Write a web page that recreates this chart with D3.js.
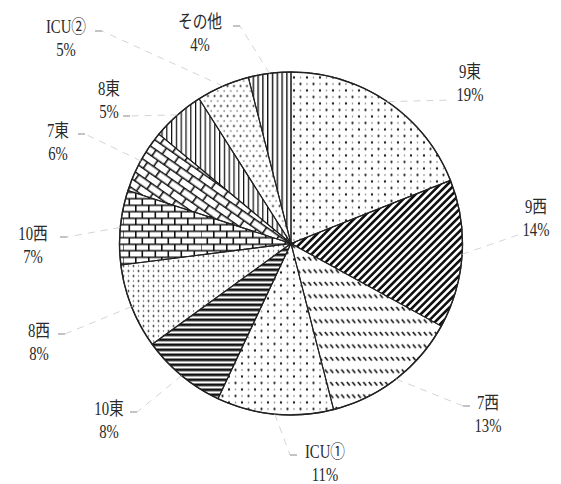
<!DOCTYPE html>
<html>
<head>
<meta charset="utf-8">
<script src="https://cdn.jsdelivr.net/npm/d3@7"></script>
<style>
  html, body { margin: 0; padding: 0; background: #fff; }
  #chart { width: 561px; height: 484px; }
  .lbl { font-family: "Liberation Serif", "Noto Sans CJK JP", serif; font-size: 16px; fill: #2a2a2a; }
</style>
</head>
<body>
<div id="chart"></div>
<script>
// ward names, clockwise from 12 o'clock
const wards = ["9東", "9西", "7西", "ICU①", "10東", "8西", "10西", "7東", "8東", "ICU②", "その他"];
// share of each ward (%)
const shares = [19, 14, 13, 11, 8, 8, 7, 6, 5, 5, 4];
// fill pattern id used for each slice
const patternOf = ["dotA", "diagBold", "hatchRow", "dotA", "horizBold", "dotB", "brick", "brickTilt", "vertA", "dotC", "vertB"];

// label layout: name centre x/baseline, leader end, direction of the small tick
const labelLayout = [
  {x: 470, y: 78,  ax: 452, ay: 100, dir: 0},
  {x: 536, y: 213, ax: 518, ay: 235, dir: 0},
  {x: 488, y: 409, ax: 463, ay: 406, dir: 1},
  {x: 325, y: 458, ax: 290, ay: 455, dir: 1},
  {x: 109, y: 415, ax: 137, ay: 412, dir: -1},
  {x: 39,  y: 337, ax: 65,  ay: 334, dir: -1},
  {x: 33,  y: 240, ax: 67,  ay: 237, dir: -1},
  {x: 58,  y: 137, ax: 85,  ay: 134, dir: -1},
  {x: 109, y: 95,  ax: 130, ay: 116, dir: -1},
  {x: 66,  y: 33,  ax: 102, ay: 31,  dir: -1},
  {x: 200, y: 28,  ax: 240, ay: 26,  dir: -1}
];

const width = 561, height = 484;
const cx = 291, cy = 243.5, radius = 171.5;

const svg = d3.select("#chart").append("svg")
  .attr("width", width)
  .attr("height", height);

const defs = svg.append("defs");

// dotted patterns
function dotPattern(id, w, h, dots) {
  const p = defs.append("pattern")
    .attr("id", id)
    .attr("patternUnits", "userSpaceOnUse")
    .attr("width", w).attr("height", h);
  dots.forEach(d => {
    p.append("circle").attr("cx", d[0]).attr("cy", d[1]).attr("r", d[2]).attr("fill", d[3]);
  });
}
dotPattern("dotA", 13, 13, [[3, 3, 1.15, "#111"], [9.5, 9.5, 1.15, "#111"], [9.5, 3, 0.8, "#666"], [3, 9.5, 0.8, "#666"]]);
dotPattern("dotB", 10, 10, [[2.5, 2.5, 0.95, "#111"], [7.5, 7.5, 0.95, "#111"], [7.5, 2.5, 0.7, "#555"], [2.5, 7.5, 0.7, "#555"]]);
dotPattern("dotC", 6.5, 10, [[1.5, 2.5, 1.0, "#111"], [4.75, 7.5, 0.8, "#555"]]);

// stripe patterns
function stripePattern(id, w, h, rx, ry, rw, rh, rotate) {
  const p = defs.append("pattern")
    .attr("id", id)
    .attr("patternUnits", "userSpaceOnUse")
    .attr("width", w).attr("height", h);
  if (rotate) p.attr("patternTransform", `rotate(${rotate})`);
  p.append("rect").attr("x", rx).attr("y", ry).attr("width", rw).attr("height", rh).attr("fill", "#111");
}
stripePattern("diagBold", 5.2, 10, 0, 0, 2.6, 10, 45);
stripePattern("horizBold", 10, 5, 0, 0, 10, 2.7, 0);
stripePattern("vertA", 4.8, 10, 0, 0, 1.25, 10, 0);
stripePattern("vertB", 4.8, 10, 0, 0, 1.4, 10, 0);

// rows of short back-slash marks
const hatch = defs.append("pattern")
  .attr("id", "hatchRow")
  .attr("patternUnits", "userSpaceOnUse")
  .attr("width", 5.5).attr("height", 12.5);
hatch.append("line")
  .attr("x1", 0.8).attr("y1", 1).attr("x2", 3.8).attr("y2", 4.6)
  .attr("stroke", "#111").attr("stroke-width", 1.6);

// brick patterns
function brickPattern(id, s, rotate) {
  const p = defs.append("pattern")
    .attr("id", id)
    .attr("patternUnits", "userSpaceOnUse")
    .attr("width", s).attr("height", s);
  if (rotate) p.attr("patternTransform", `rotate(${rotate})`);
  p.append("path")
    .attr("d", `M0,0.8H${s}M0,${s / 2 + 0.8}H${s}M0.8,0V${s / 2}M${s / 2 + 0.8},${s / 2}V${s}`)
    .attr("stroke", "#111").attr("stroke-width", 1.6).attr("fill", "none");
}
brickPattern("brick", 13, 0);
brickPattern("brickTilt", 15, 35);

const g = svg.append("g").attr("transform", `translate(${cx},${cy})`);

const pie = d3.pie().sort(null).value(d => d);
const arcs = pie(shares);
const arc = d3.arc().innerRadius(0).outerRadius(radius);

g.selectAll("path.bg")
  .data(arcs)
  .enter().append("path")
  .attr("class", "bg")
  .attr("d", arc)
  .attr("fill", "#fff");

g.selectAll("path.slice")
  .data(arcs)
  .enter().append("path")
  .attr("class", "slice")
  .attr("d", arc)
  .attr("fill", (d, i) => `url(#${patternOf[i]})`)
  .attr("stroke", "#222")
  .attr("stroke-width", 1.1)
  .attr("stroke-linejoin", "round");

g.append("circle")
  .attr("r", radius)
  .attr("fill", "none")
  .attr("stroke", "#222")
  .attr("stroke-width", 1.4);

// leader lines (very faint in the original)
const total = d3.sum(shares);
arcs.forEach((d, i) => {
  const mid = (d.startAngle + d.endAngle) / 2;
  const px = cx + radius * Math.sin(mid),
      py = cy - radius * Math.cos(mid);
  const L = labelLayout[i];
  svg.append("line")
    .attr("x1", px).attr("y1", py)
    .attr("x2", L.ax).attr("y2", L.ay)
    .attr("stroke", "#cfcfcf")
    .attr("stroke-width", 0.9)
    .attr("stroke-dasharray", "7 6");
  if (L.dir !== 0) {
    svg.append("line")
      .attr("x1", L.ax).attr("y1", L.ay)
      .attr("x2", L.ax + 7 * L.dir).attr("y2", L.ay)
      .attr("stroke", "#888")
      .attr("stroke-width", 1);
  }
});

// labels, stretched a little vertically like the narrow mincho face of the original
const labels = svg.append("g");
wards.forEach((w, i) => {
  const L = labelLayout[i];
  const pct = Math.round(shares[i] / total * 100) + "%";
  [[w, L.y], [pct, L.y + 23]].forEach(([txt, y]) => {
    labels.append("text")
      .attr("class", "lbl")
      .attr("text-anchor", "middle")
      .attr("transform", `translate(${L.x},${y}) scale(0.92,1.15)`)
      .text(txt);
  });
});
</script>
</body>
</html>
